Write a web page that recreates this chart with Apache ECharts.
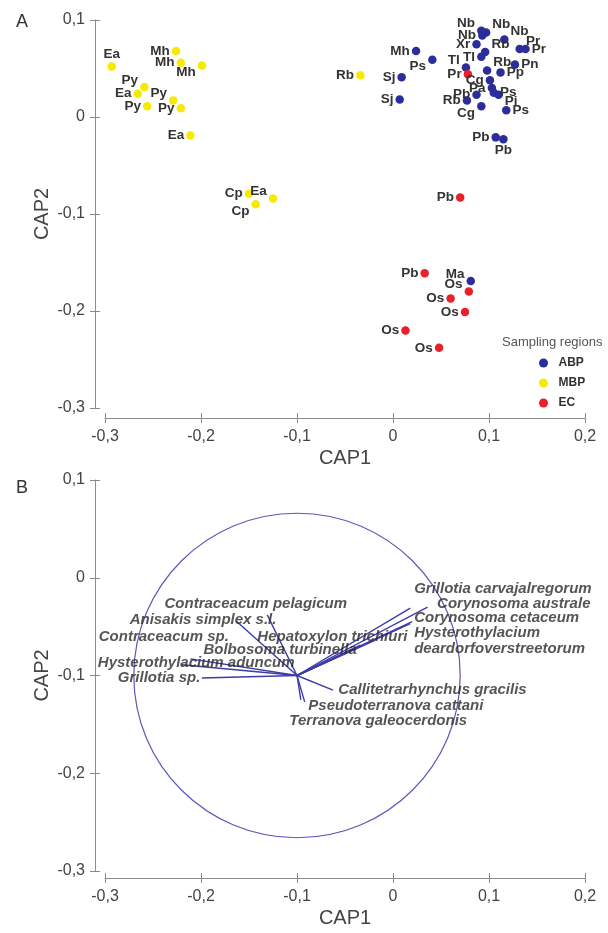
<!DOCTYPE html>
<html>
<head>
<meta charset="utf-8">
<script src="https://cdn.jsdelivr.net/npm/echarts@6/dist/echarts.min.js"></script>
<style>
  html, body { margin: 0; padding: 0; background: #fff; }
  #main { width: 608px; height: 933px; }
</style>
</head>
<body>
<div id="main"></div>
<script>
// ---- panel A: samples (CAP1, CAP2) by sampling region ----
const abpPoints = [[0.024,0.068],[0.041,0.059],[0.009,0.041],[0.007,0.018],[0.092,0.089],[0.097,0.087],
  [0.093,0.084],[0.116,0.080],[0.087,0.075],[0.096,0.067],[0.092,0.062],[0.132,0.070],[0.138,0.070],
  [0.127,0.054],[0.098,0.048],[0.112,0.046],[0.076,0.051],[0.101,0.038],[0.103,0.030],[0.105,0.025],
  [0.087,0.023],[0.110,0.023],[0.077,0.017],[0.092,0.011],[0.118,0.007],[0.107,-0.021],[0.115,-0.023],
  [0.081,-0.169]];
const abpNames = ['Mh','Ps','Sj','Sj','Nb','Nb','Nb','Nb','Xr','Rb','Tl','Pr','Pr','Pn','Rb','Pp','Tl',
  'Cg','Pa','Ps','Pb','Pi','Rb','Cg','Ps','Pb','Pb','Ma'];
const abpPos = ['l','bl','l','l','tl','tr','l','tr','l','tr','l','tr','r','r','tr','r','tl',
  'l','l','r','l','br','l','bl','r','l','b','tl'];

const mbpPoints = [[-0.293,0.052],[-0.226,0.068],[-0.221,0.056],[-0.199,0.053],[-0.259,0.031],
  [-0.266,0.024],[-0.256,0.011],[-0.229,0.017],[-0.221,0.009],[-0.211,-0.019],[-0.150,-0.079],
  [-0.143,-0.090],[-0.125,-0.084],[-0.034,0.043]];
const mbpNames = ['Ea','Mh','Mh','Mh','Py','Ea','Py','Py','Py','Ea','Cp','Cp','Ea','Rb'];
const mbpPos = ['t','l','l','bl','tl','l','l','tl','l','l','l','bl','tl','l'];

const ecPoints = [[0.078,0.044],[0.070,-0.083],[0.033,-0.161],[0.079,-0.180],[0.060,-0.187],
  [0.075,-0.201],[0.013,-0.220],[0.048,-0.238]];
const ecNames = ['Pr','Pb','Pb','Os','Os','Os','Os','Os'];
const ecPos = ['l','l','l','tl','l','l','l','l'];

// ---- panel B: species vectors and correlation circle ----
const vecOrigin = [-0.100, -0.100];
const species = ['Anisakis simplex s.l.','Contraceacum pelagicum','Contraceacum sp.','Hysterothylacium aduncum',
  'Grillotia sp.','Bolbosoma turbinella','Hepatoxylon trichiuri','Grillotia carvajalregorum',
  'Corynosoma australe','Corynosoma cetaceum','Hysterothylacium deardorfoverstreetorum',
  'Callitetrarhynchus gracilis','Pseudoterranova cattani','Terranova galeocerdonis'];
const vecEnds = [[-0.1625,-0.045],[-0.131,-0.038],[-0.211,-0.083],[-0.220,-0.089],[-0.199,-0.1026],
  [-0.034,-0.069],[-0.019,-0.064],[0.018,-0.031],[0.036,-0.030],[0.020,-0.045],[0.018,-0.047],
  [-0.0625,-0.115],[-0.092,-0.127],[-0.096,-0.125]];
const circle = [-0.100, -0.100, 0.170, 0.166]; // cx, cy, rx, ry

// label text and where it sits (left edge, middle)
const speciesText = ['Contraceacum pelagicum','Anisakis simplex s.l.','Contraceacum sp.','Hepatoxylon trichiuri',
  'Bolbosoma turbinella','Hysterothylacium aduncum','Grillotia sp.','Grillotia carvajalregorum',
  'Corynosoma australe','Corynosoma cetaceum','Hysterothylacium','deardorfoverstreetorum',
  'Callitetrarhynchus gracilis','Pseudoterranova cattani','Terranova galeocerdonis'];
const speciesAt = [[-0.2385,-0.0269],[-0.2748,-0.0432],[-0.307,-0.0606],[-0.1418,-0.0606],
  [-0.198,-0.0739],[-0.308,-0.0872],[-0.2872,-0.1026],[0.0215,-0.0115],[0.0454,-0.0269],
  [0.0215,-0.0412],[0.0215,-0.0565],[0.0215,-0.0729],[-0.0575,-0.1148],[-0.0887,-0.1312],[-0.1085,-0.1465]];

const xTicks = { min: -0.3, max: 0.2, interval: 0.1 };
const yTicks = { min: -0.3, max: 0.1, interval: 0.1 };

const FONT = 'Liberation Sans, Arial, sans-serif';
const axisGrey = '#8a8a8a';

function tickFmt(v) {
  if (Math.abs(v) < 1e-9) return '0';
  return v.toFixed(1).replace('.', ',');
}

const posMap = {
  l: { position: 'left', distance: 2 },
  r: { position: 'right', distance: 2 },
  t: { position: 'top', distance: 1 },
  b: { position: 'bottom', distance: 0 },
  tl: { position: 'left', distance: 2, offset: [0, -7] },
  tr: { position: 'right', distance: 2, offset: [0, -8] },
  bl: { position: 'left', distance: 2, offset: [0, 7] },
  br: { position: 'right', distance: 2, offset: [0, 7] }
};

function samples(points, names, pos) {
  return points.map((p, i) => ({
    value: p,
    label: Object.assign({ formatter: names[i] }, posMap[pos[i]])
  }));
}

// main axis (line, outward ticks, labels) plus a bare one for the inward half of the ticks
function makeX(gridIndex, offset, inner) {
  return {
    type: 'value', gridIndex, position: 'bottom', min: xTicks.min, max: xTicks.max, interval: xTicks.interval,
    offset, name: inner ? '' : 'CAP1', nameLocation: 'middle', nameGap: 30,
    nameTextStyle: { fontSize: 20, color: '#444', fontFamily: FONT },
    axisLine: { show: !inner, onZero: false, lineStyle: { color: axisGrey, width: 1 } },
    axisTick: { show: true, inside: !!inner, length: 5, lineStyle: { color: axisGrey } },
    axisLabel: { show: !inner, formatter: tickFmt, fontSize: 16, color: '#444', margin: 11, fontFamily: FONT },
    splitLine: { show: false }
  };
}
function makeY(gridIndex, inner) {
  return {
    type: 'value', gridIndex, position: 'left', min: yTicks.min, max: yTicks.max, interval: yTicks.interval,
    offset: 10, name: inner ? '' : 'CAP2', nameLocation: 'middle', nameGap: 43, nameMoveOverlap: false,
    nameTextStyle: { fontSize: 20, color: '#444', fontFamily: FONT },
    axisLine: { show: !inner, onZero: false, lineStyle: { color: axisGrey, width: 1 } },
    axisTick: { show: true, inside: !!inner, length: 5, lineStyle: { color: axisGrey } },
    axisLabel: { show: !inner, formatter: tickFmt, fontSize: 16, color: '#444', margin: 10, fontFamily: FONT },
    splitLine: { show: false }
  };
}

const pointLabel = { show: true, fontSize: 13.5, fontWeight: 'bold', color: '#333', fontFamily: FONT };

const chart = echarts.init(document.getElementById('main'));
chart.setOption({
  animation: false,
  textStyle: { fontFamily: FONT },
  title: [
    { text: 'A', left: 11, top: 8, textStyle: { fontSize: 18, fontWeight: 'normal', color: '#333' } },
    { text: 'B', left: 11, top: 474, textStyle: { fontSize: 18, fontWeight: 'normal', color: '#333' } },
    { text: 'Sampling regions', left: 497, top: 331, textStyle: { fontSize: 13, fontWeight: 'normal', color: '#555' } }
  ],
  legend: {
    data: ['ABP', 'MBP', 'EC'], orient: 'vertical', left: 534, top: 352,
    icon: 'circle', itemWidth: 20, itemHeight: 9, itemGap: 8,
    textStyle: { fontSize: 12, fontWeight: 'bold', color: '#333' }
  },
  grid: [
    { left: 105, top: 20, width: 480, height: 388 },
    { left: 105, top: 480, width: 480, height: 391 }
  ],
  xAxis: [makeX(0, 10), makeX(1, 7), makeX(0, 10, true), makeX(1, 7, true)],
  yAxis: [makeY(0), makeY(1), makeY(0, true), makeY(1, true)],
  series: [
    { name: 'ABP', type: 'scatter', xAxisIndex: 0, yAxisIndex: 0, symbolSize: 8.5,
      itemStyle: { color: '#2b2d9b', opacity: 1 }, label: pointLabel, data: samples(abpPoints, abpNames, abpPos) },
    { name: 'MBP', type: 'scatter', xAxisIndex: 0, yAxisIndex: 0, symbolSize: 8.5,
      itemStyle: { color: '#f7ea00', opacity: 1 }, label: pointLabel, data: samples(mbpPoints, mbpNames, mbpPos) },
    { name: 'EC', type: 'scatter', xAxisIndex: 0, yAxisIndex: 0, symbolSize: 8.5,
      itemStyle: { color: '#e8202a', opacity: 1 }, label: pointLabel, data: samples(ecPoints, ecNames, ecPos) },
    { type: 'custom', xAxisIndex: 1, yAxisIndex: 1, clip: false, silent: true,
      data: [circle],
      renderItem: function (params, api) {
        const c = api.coord([api.value(0), api.value(1)]);
        const s = api.size([api.value(2), api.value(3)]);
        return { type: 'ellipse', shape: { cx: c[0], cy: c[1], rx: s[0], ry: s[1] },
          style: { fill: 'none', stroke: '#5a5ab8', lineWidth: 1.2 } };
      } },
    { type: 'lines', coordinateSystem: 'cartesian2d', xAxisIndex: 1, yAxisIndex: 1, silent: true,
      lineStyle: { color: '#3c3caa', width: 1.4, opacity: 1 },
      data: vecEnds.map((e, i) => ({ name: species[i], coords: [vecOrigin, e] })) },
    { type: 'scatter', xAxisIndex: 1, yAxisIndex: 1, clip: false, silent: true, symbolSize: 1,
      itemStyle: { color: 'transparent' },
      label: { show: true, position: 'right', distance: 0, fontSize: 15, fontWeight: 'bold',
        fontStyle: 'italic', color: '#2a2a2a', fontFamily: FONT,
        formatter: p => speciesText[p.dataIndex] },
      data: speciesAt }
  ]
});
</script>
</body>
</html>
